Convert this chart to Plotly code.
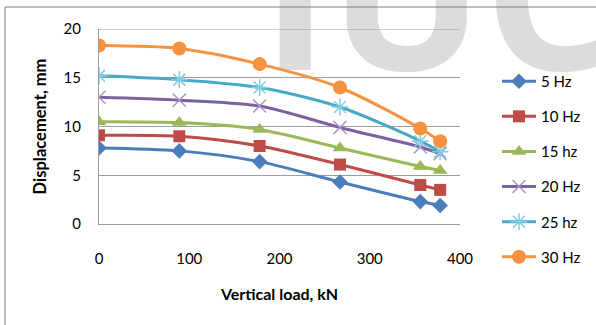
import plotly.graph_objects as go

# Vertical load (kN) and measured displacement (mm) per excitation frequency
load_kn = [0, 89, 178, 267, 356, 378]
disp_5hz = [7.8, 7.5, 6.4, 4.3, 2.3, 1.9]
disp_10hz = [9.1, 9.0, 8.0, 6.1, 4.0, 3.5]
disp_15hz = [10.5, 10.4, 9.7, 7.8, 5.9, 5.5]
disp_20hz = [13.0, 12.7, 12.1, 9.9, 7.9, 7.2]
disp_25hz = [15.2, 14.8, 14.0, 12.0, 8.5, 7.4]
disp_30hz = [18.3, 18.0, 16.4, 14.0, 9.8, 8.5]
series_names = ["5 Hz", "10 Hz", "15 hz", "20 Hz", "25 hz", "30 Hz"]
x_ticks = [0, 100, 200, 300, 400]
y_ticks = [0, 5, 10, 15, 20]

series_values = [disp_5hz, disp_10hz, disp_15hz, disp_20hz, disp_25hz, disp_30hz]

# Figure geometry (pixels)
W, H = 596, 325
M_L, M_R, M_T, M_B = 99, 136, 29, 101
PLOT_W = W - M_L - M_R
PLOT_H = H - M_T - M_B
X_RANGE = [0, 400]
Y_RANGE = [0, 20]


def paper_x(px):
    return (px - M_L) / PLOT_W


def paper_y(py):
    return (H - M_B - py) / PLOT_H


def data_x(px):
    return X_RANGE[0] + (px - M_L) / PLOT_W * (X_RANGE[1] - X_RANGE[0])


def data_y(py):
    return Y_RANGE[0] + (H - M_B - py) / PLOT_H * (Y_RANGE[1] - Y_RANGE[0])


FONT = "Lato"
GRID = "#9c9c9c"
BORDER = "#7f7f7f"

styles = [
    dict(line="#4a7ebb", marker=dict(symbol="diamond", size=12, color="#4a7ebb")),
    dict(line="#be4b48", marker=dict(symbol="square", size=12, color="#be4b48")),
    dict(line="#98b954", marker=dict(symbol="triangle-up", size=13, color="#98b954")),
    dict(line="#7d60a0", marker=dict(symbol="x-thin-open", size=13, color="#a895c8",
                                      line=dict(width=1.5))),
    dict(line="#46aac5", marker=dict(symbol="asterisk-open", size=14, color="#7fcde2",
                                      line=dict(width=1.5))),
    dict(line="#f69240", marker=dict(symbol="circle", size=14, color="#f69240")),
]

fig = go.Figure()

# Light grey background lettering at the top of the page (anchored inside the
# axis range so it is not culled, text drawn above the anchor point)
fig.add_trace(go.Scatter(
    x=[data_x(438)], y=[data_y(121)], mode="text", text=["IUC"],
    textposition="top center",
    textfont=dict(family="Open Sans", size=205, color="#dcdcdc", weight="bold"),
    cliponaxis=False, showlegend=False, hoverinfo="skip",
))

for i, (name, vals, st) in enumerate(zip(series_names, series_values, styles)):
    fig.add_trace(go.Scatter(
        x=load_kn, y=vals, name=name, mode="lines+markers",
        line=dict(color=st["line"], width=3, shape="spline", smoothing=0.8),
        marker=st["marker"], legendgroup=f"g{i}",
    ))

shapes = [
    # gridline at the top value, kept above the background lettering
    dict(type="line", xref="x", yref="y", x0=X_RANGE[0], x1=X_RANGE[1], y0=20, y1=20,
         line=dict(color=GRID, width=1), layer="above"),
    # chart frame (top and left edges)
    dict(type="line", xref="paper", yref="paper", x0=paper_x(5), x1=paper_x(W + 2),
         y0=paper_y(7), y1=paper_y(7), line=dict(color=BORDER, width=1), layer="above"),
    dict(type="line", xref="paper", yref="paper", x0=paper_x(5), x1=paper_x(5),
         y0=paper_y(7), y1=paper_y(H + 2), line=dict(color=BORDER, width=1), layer="above"),
]

fig.update_layout(
    width=W, height=H,
    margin=dict(l=M_L, r=M_R, t=M_T, b=M_B, autoexpand=False),
    paper_bgcolor="white", plot_bgcolor="white",
    font=dict(family=FONT, size=15, color="#000000"),
    shapes=shapes,
    showlegend=True,
    legend=dict(
        x=paper_x(497), y=paper_y(65), xanchor="left", yanchor="top",
        font=dict(family=FONT, size=15, color="#000000"),
        itemwidth=34, tracegroupgap=12.6, bgcolor="rgba(0,0,0,0)",
        maxheight=400,
    ),
    xaxis=dict(
        range=X_RANGE, tickvals=x_ticks, showgrid=False, zeroline=False,
        showline=True, linecolor=GRID, linewidth=1, ticks="",
        ticklabelstandoff=21, automargin=False,
        tickfont=dict(family=FONT, size=15),
        title=dict(text="Vertical load, kN", standoff=22,
                   font=dict(family=FONT, size=16, weight="bold")),
    ),
    yaxis=dict(
        range=Y_RANGE, tickvals=y_ticks, showgrid=True, gridcolor=GRID, gridwidth=1,
        zeroline=False, showline=True, linecolor=GRID, linewidth=1, ticks="",
        ticklabelstandoff=14, automargin=False,
        tickfont=dict(family=FONT, size=15),
        title=dict(text="Displacement, mm", standoff=12,
                   font=dict(family=FONT, size=16.5, weight="bold")),
    ),
)

fig.write_html("out.html")
